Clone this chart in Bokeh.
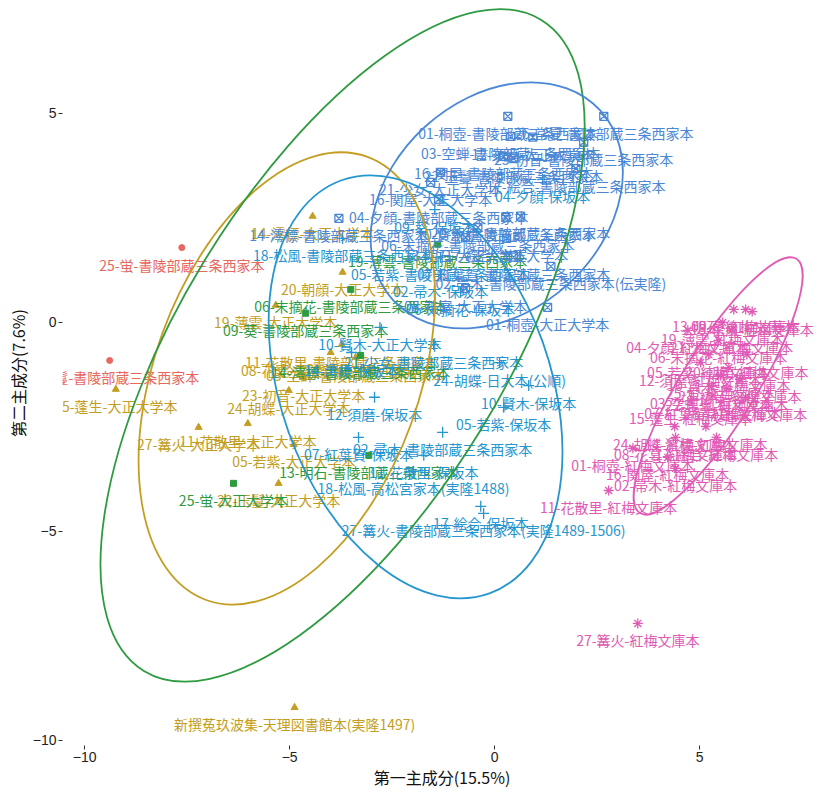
from bokeh.plotting import figure
from bokeh.models import ColumnDataSource, FixedTicker, Range1d
from bokeh.embed import file_html
from bokeh.resources import INLINE
from bokeh.core.properties import value

FONT = "Noto Sans CJK JP"
TICK_FONT = "Liberation Sans"

# ---------------- data ----------------
red_labels = ["25-蛍-書陵部蔵三条西家本", "22-玉鬘-書陵部蔵三条西家本"]
red_x = [-7.63, -9.39]
red_y = [1.79, -0.91]

olive_labels = ["15-蓬生-大正大学本", "27-篝火-大正大学本", "11-花散里-大正大学本", "05-若紫-大正大学本",
                "22-玉鬘-大正大学本", "23-初音-大正大学本", "24-胡蝶-大正大学本", "19-薄雲-大正大学本",
                "20-朝顔-大正大学本", "14-澪標-大正大学本", "11-花散里-書陵部蔵三条西家本",
                "08-花宴-書陵部蔵三条西家本", "03-空蝉-書陵部蔵三条西家本",
                "新撰菟玖波集-天理図書館本(実隆1497)"]
olive_x = [-9.24, -7.22, -6.02, -4.90, -5.27, -4.66, -5.02, -5.34, -3.71, -4.44, -3.73, -4.00, -3.39, -4.88]
olive_y = [-1.60, -2.51, -2.42, -2.92, -3.85, -1.32, -1.63, 0.41, 1.20, 2.54, -0.53, -0.72, -0.84, -9.21]

green_labels = ["09-葵-書陵部蔵三条西家本", "06-末摘花-書陵部蔵三条西家本", "19-薄雲-書陵部蔵三条西家本",
                "13-明石-書陵部蔵三条西家本", "25-蛍-大正大学本", "14-澪標-書陵部蔵三条西家本"]
green_x = [-4.61, -3.51, -1.39, -3.07, -6.37, -3.27]
green_y = [0.22, 0.79, 1.87, -3.18, -3.85, -0.79]

cyan_labels = ["10-賢木-大正大学本", "21-少女-書陵部蔵三条西家本", "14-澪標-保坂本", "24-胡蝶-日大本(公順)",
               "10-賢木-保坂本", "05-若紫-保坂本", "12-須磨-保坂本", "02-帚木-書陵部蔵三条西家本",
               "07-紅葉賀-保坂本", "11-花散里-保坂本", "18-松風-高松宮家本(実隆1488)", "17-絵合-保坂本",
               "27-篝火-書陵部蔵三条西家本(実隆1489-1506)", "18-松風-書陵部蔵三条西家本",
               "05-若紫-書陵部蔵三条西家本", "02-帚木-保坂本", "06-末摘花-保坂本", "09-葵-保坂本",
               "04-夕顔-保坂本"]
cyan_x = [-2.80, -1.49, -3.49, 0.12, 0.83, 0.22, -2.93, -1.27, -3.32, -1.73, -1.98, -0.34, -0.27,
          -3.71, -1.32, -1.32, -0.83, -1.46, 1.17]
cyan_y = [-0.12, -0.53, -0.72, -0.96, -1.51, -2.03, -1.79, -2.63, -2.75, -3.18, -3.56, -4.40, -4.57,
          2.01, 1.56, 1.15, 0.72, 2.70, 3.42]

blue_labels = ["01-桐壺-書陵部蔵三条西家本", "26-常夏-書陵部蔵三条西家本", "03-空蝉-書陵部蔵三条西家本",
               "12-須磨-大正大学本", "23-初音-書陵部蔵三条西家本", "16-関屋-書陵部蔵三条西家本",
               "22-玉鬘-書陵部蔵三条西家本", "17-絵合-書陵部蔵三条西家本", "21-少女-大正大学本",
               "16-関屋-大正大学本", "04-夕顔-書陵部蔵三条西家本", "20-朝顔-書陵部蔵三条西家本",
               "07-紅葉賀-書陵部蔵三条西家本", "02-帚木-書陵部蔵三条西家本(伝実隆)", "13-明石-大正大学本",
               "08-花宴-大正大学本", "01-桐壺-大正大学本", "06-末摘花-書陵部蔵三条西家本",
               "14-澪標-書陵部蔵三条西家本", "10-賢木-書陵部蔵三条西家本", "17-絵合-大正大学本"]
blue_x = [0.32, 2.66, 0.39, 0.93, 2.17, 0.22, 0.46, 1.98, -1.32, -1.56, -1.37, 0.63, 0.46, 1.37,
          -0.71, -0.71, 1.29, -0.41, -3.80, 0.27, 0.29]
blue_y = [4.93, 4.93, 4.45, 4.43, 4.31, 3.97, 3.92, 3.68, 3.59, 3.35, 2.94, 2.54, 1.56, 1.34,
          2.03, 0.81, 0.36, 2.27, 2.49, 2.51, 2.01]

pink_labels = ["13-明石-紅梅文庫本", "09-葵-紅梅文庫本", "18-松風-紅梅文庫本", "04-夕顔-紅梅文庫本",
               "21-少女-紅梅文庫本", "06-末摘花-紅梅文庫本", "05-若紫-紅梅文庫本", "20-朝顔-紅梅文庫本",
               "10-賢木-紅梅文庫本", "23-初音-紅梅文庫本", "03-空蝉-紅梅文庫本", "22-玉鬘-紅梅文庫本",
               "26-常夏-紅梅文庫本", "24-胡蝶-紅梅文庫本", "14-澪標-紅梅文庫本", "08-花宴-紅梅文庫本",
               "17-絵合-紅梅文庫本", "01-桐壺-紅梅文庫本", "16-関屋-紅梅文庫本", "02-帚木-紅梅文庫本",
               "11-花散里-紅梅文庫本", "27-篝火-紅梅文庫本", "07-紅葉賀-紅梅文庫本", "15-蓬生-紅梅文庫本",
               "25-蛍-紅梅文庫本", "12-須磨-紅梅文庫本", "19-薄雲-紅梅文庫本"]
pink_x = [5.83, 6.12, 6.28, 4.71, 5.78, 5.46, 5.22, 6.15, 5.71, 5.98, 5.29, 5.66, 6.12, 4.39, 5.15,
          4.41, 5.41, 3.37, 4.22, 4.41, 2.78, 3.49, 5.32, 4.78, 5.51, 5.02, 5.56]
pink_y = [0.31, 0.31, 0.26, -0.19, -0.19, -0.43, -0.77, -0.77, -1.08, -1.36, -1.53, -1.58, -1.79,
          -2.49, -2.49, -2.75, -2.75, -3.01, -3.23, -3.49, -4.02, -7.20, -1.75, -1.87, -1.27, -0.96, 0.00]

# 95% ellipses (centre, full axes, rotation in degrees) per group
ell_group = ["olive", "green", "cyan", "blue", "pink"]
ell_cx = [-5.07, -3.71, -1.93, 0.05, 5.45]
ell_cy = [-1.34, -0.55, -1.54, 2.80, -1.52]
ell_w = [11.5, 18.6, 10.7, 6.85, 7.28]
ell_h = [6.33, 7.75, 6.45, 5.09, 1.79]
ell_angle = [70.0, 58.6, -70.3, 42.4, 58.4]

x_ticks = [-10, -5, 0, 5]
y_ticks = [-10, -5, 0, 5]

# ---------------- styling ----------------
colors = {
    "red": "#E8685F",
    "olive": "#C49E22",
    "green": "#2E9B40",
    "cyan": "#2596CF",
    "blue": "#4A88D6",
    "pink": "#E05BB5",
}

p = figure(width=821, height=795,
           x_range=Range1d(-10.54, 7.97), y_range=Range1d(-10.12, 7.70),
           output_backend="svg", toolbar_location=None,
           min_border_left=62, min_border_right=0, min_border_top=0, min_border_bottom=50)
p.background_fill_color = "#FFFFFF"
p.border_fill_color = "#FFFFFF"
p.outline_line_color = None
p.xgrid.visible = False
p.ygrid.visible = False

groups = [
    ("red", red_labels, red_x, red_y, "circle", 6, True),
    ("olive", olive_labels, olive_x, olive_y, "triangle", 7, True),
    ("green", green_labels, green_x, green_y, "square", 6, True),
    ("cyan", cyan_labels, cyan_x, cyan_y, "cross", 11, False),
    ("blue", blue_labels, blue_x, blue_y, "square_x", 8, False),
    ("pink", pink_labels, pink_x, pink_y, "asterisk", 10, False),
]

for name, labels, xs, ys, marker, size, filled in groups:
    src = ColumnDataSource(dict(x=xs, y=ys, label=labels))
    col = colors[name]
    if filled:
        p.scatter("x", "y", source=src, marker=marker, size=size,
                  fill_color=col, line_color=col)
    else:
        p.scatter("x", "y", source=src, marker=marker, size=size,
                  fill_color=None, line_color=col, line_width=1.3)
    p.text("x", "y", text="label", source=src, text_font=value(FONT),
           text_font_size="14px", text_color=col, text_align="center",
           text_baseline="middle", y_offset=17)

esrc = ColumnDataSource(dict(x=ell_cx, y=ell_cy, w=ell_w, h=ell_h, a=ell_angle,
                             c=[colors[g] for g in ell_group]))
p.ellipse(x="x", y="y", width="w", height="h", angle="a", angle_units="deg",
          source=esrc, fill_color=None, line_color="c", line_width=1.8)

for ax in (p.xaxis[0], p.yaxis[0]):
    ax.axis_line_color = None
    ax.major_tick_line_color = "#333333"
    ax.major_tick_out = 4
    ax.major_tick_in = 0
    ax.minor_tick_line_color = None
    ax.major_label_text_font = TICK_FONT
    ax.major_label_text_font_size = "14px"
    ax.major_label_text_color = "#222222"
    ax.major_label_standoff = 2
    ax.axis_label_text_font = FONT
    ax.axis_label_text_font_size = "16px"
    ax.axis_label_text_font_style = "normal"
    ax.axis_label_text_color = "#111111"
    ax.axis_label_standoff = 0

p.xaxis[0].ticker = FixedTicker(ticks=x_ticks)
p.yaxis[0].ticker = FixedTicker(ticks=y_ticks)
p.xaxis[0].axis_label = "第一主成分(15.5%)"
p.yaxis[0].axis_label = "第二主成分(7.6%)"

open("out.html", "w").write(file_html(p, INLINE))
